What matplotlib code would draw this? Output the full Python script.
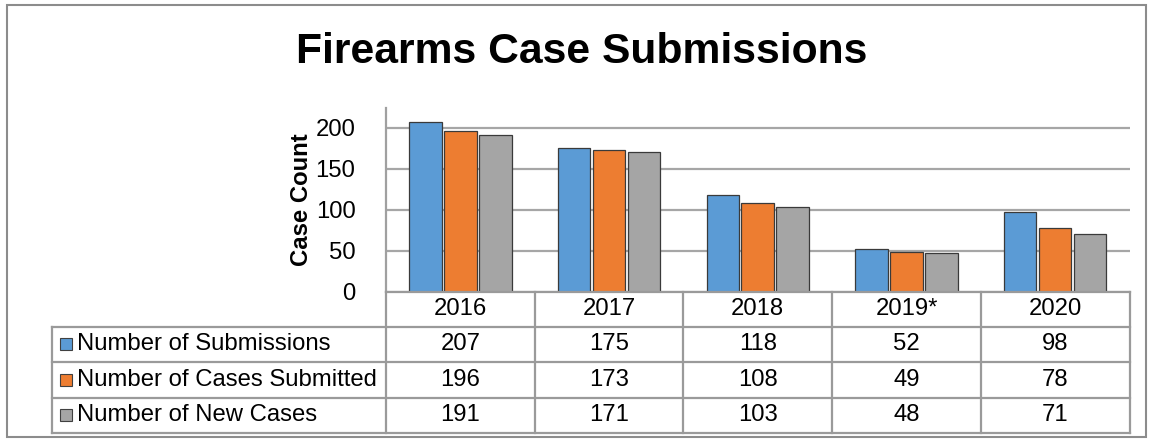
import matplotlib
matplotlib.use("Agg")
from matplotlib import pyplot as plt
from matplotlib.patches import Rectangle

plt.rcParams["font.family"] = ["Liberation Sans", "DejaVu Sans"]

years = ["2016", "2017", "2018", "2019*", "2020"]
series_names = ["Number of Submissions", "Number of Cases Submitted", "Number of New Cases"]
submissions = [207, 175, 118, 52, 98]
cases_submitted = [196, 173, 108, 49, 78]
new_cases = [191, 171, 103, 48, 71]
colors = ["#5B9BD5", "#ED7D31", "#A5A5A5"]

W, H = 1152, 442
fig = plt.figure(figsize=(W / 100, H / 100), dpi=100)
fs = 17.2

def fx(px):
    return px / W

def fy(py):
    return 1 - py / H

# outer border
fig.patches.append(Rectangle((fx(7), fy(437)), fx(1146) - fx(7), fy(5) - fy(437),
                             transform=fig.transFigure, fill=False,
                             edgecolor="#8c8c8c", linewidth=1.5))

fig.text(fx(582), fy(52), "Firearms Case Submissions", ha="center", va="center",
         fontsize=30.7, fontweight="bold")

# bar axes
left, right, top, base = 386, 1129.5, 108, 292
ax = fig.add_axes([fx(left), fy(base), fx(right) - fx(left), fy(top) - fy(base)])
series = [submissions, cases_submitted, new_cases]
x = list(range(len(years)))
step, bw = 0.235, 0.219
for i, vals in enumerate(series):
    ax.bar([xi + (i - 1) * step for xi in x], vals, width=bw, color=colors[i],
           edgecolor="#3a3a3a", linewidth=0.9, zorder=3)
ax.set_xlim(-0.5, len(years) - 0.5)
ax.set_ylim(0, 224)
ax.set_yticks([0, 50, 100, 150, 200])
ax.yaxis.grid(True, color="#a6a6a6", linewidth=1.6, zorder=0)
ax.set_xticks([])
ax.tick_params(axis="y", length=0, labelsize=fs, pad=22)
for s in ["top", "right", "bottom"]:
    ax.spines[s].set_visible(False)
ax.spines["left"].set_color("#a0a0a0")
ax.spines["left"].set_linewidth(1.6)
ax.set_ylabel("Case Count", fontsize=fs, fontweight="bold", labelpad=2)
ax.patch.set_visible(False)

# data table
tleft, tright = 52, 1129.5
rows = [292, 326.5, 362, 397.5, 433]
tax = fig.add_axes([fx(tleft), fy(rows[-1]), fx(tright) - fx(tleft), fy(rows[0]) - fy(rows[-1])])
cat_w = (right - left) / len(years)
label_w = (left - tleft) / cat_w
tax.set_xlim(-0.5 - label_w, len(years) - 0.5)
tax.set_ylim(rows[-1], rows[0])
tax.axis("off")
lc, lw = "#9a9a9a", 1.6
# horizontal lines
tax.plot([-0.5, len(years) - 0.5], [rows[0], rows[0]], color=lc, lw=lw, clip_on=False)
for r in rows[1:]:
    tax.plot([-0.5 - label_w, len(years) - 0.5], [r, r], color=lc, lw=lw, clip_on=False)
# vertical lines
for k in range(len(years) + 1):
    tax.plot([k - 0.5, k - 0.5], [rows[0], rows[-1]], color=lc, lw=lw, clip_on=False)
tax.plot([-0.5 - label_w] * 2, [rows[1], rows[-1]], color=lc, lw=lw, clip_on=False)

for j, yr in enumerate(years):
    tax.text(j, (rows[0] + rows[1]) / 2, yr, ha="center", va="center", fontsize=fs)
for i, (name, vals) in enumerate(zip(series_names, series)):
    yc = (rows[i + 1] + rows[i + 2]) / 2
    for j, v in enumerate(vals):
        tax.text(j, yc, str(v), ha="center", va="center", fontsize=fs)
    tax.text(-0.5 - label_w + 25 / cat_w, yc, name, ha="left", va="center", fontsize=fs)
    sq = 12
    tax.add_patch(Rectangle((-0.5 - label_w + 8 / cat_w, yc - sq / 2), sq / cat_w, sq,
                            facecolor=colors[i], edgecolor="#404040", linewidth=0.8,
                            clip_on=False))

fig.savefig("out.png", dpi=100)
